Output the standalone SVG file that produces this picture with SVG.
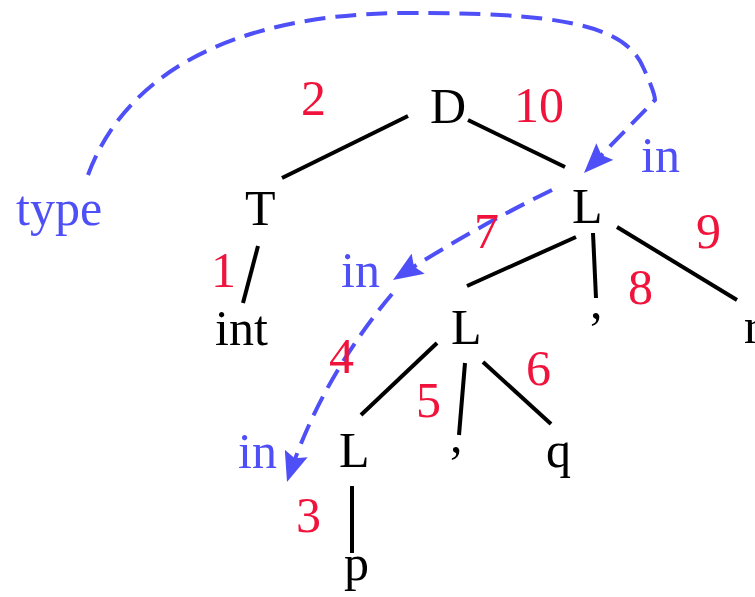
<svg xmlns="http://www.w3.org/2000/svg" width="755" height="597" viewBox="0 0 755 597">
<style>
.n{font-family:"Liberation Serif","Times New Roman",serif;font-size:50px;fill:#000}
.num{font-family:"Liberation Serif","Times New Roman",serif;font-size:50px;fill:#f0143c}
.att{font-family:"Liberation Serif","Times New Roman",serif;font-size:50px;fill:#4f4ff7}
.e{stroke:#000;stroke-width:4;fill:none;stroke-linecap:butt}
.d{stroke:#4f4ff7;stroke-width:4;fill:none;stroke-dasharray:21 10}
</style>
<defs>
<marker id="ah" markerUnits="userSpaceOnUse" markerWidth="32" markerHeight="24" refX="30" refY="12" orient="auto">
<path d="M0,0 L30,12 L0,24 L5,12 z" fill="#4f4ff7"/>
</marker>
</defs>
<rect width="755" height="597" fill="#fff"/>
<g id="connectors">
<line class="e" x1="408" y1="116" x2="282" y2="178"/>
<line class="e" x1="468" y1="120" x2="565" y2="167"/>
<line class="e" x1="258" y1="246" x2="243" y2="303"/>
<line class="e" x1="576" y1="237" x2="467" y2="286"/>
<line class="e" x1="593" y1="233" x2="596" y2="298"/>
<line class="e" x1="617" y1="227" x2="737" y2="300"/>
<line class="e" x1="437" y1="343" x2="361" y2="415"/>
<line class="e" x1="465" y1="363" x2="459" y2="435"/>
<line class="e" x1="483" y1="362" x2="551" y2="424"/>
<line class="e" x1="352" y1="486" x2="352" y2="553"/>
<path class="d" d="M88,175 C125,75 230,15 400,13 C560,12 625,25 643,67 C650,82 655,95 655,100 L584,173" marker-end="url(#ah)"/>
<path class="d" d="M552,190 Q470,230 393,280" marker-end="url(#ah)"/>
<path class="d" d="M392,294 Q320,380 287,482" marker-end="url(#ah)"/>
</g>
<g id="attr-labels">
<text class="att" x="16" y="225">type</text>
<text class="att" x="641" y="172">in</text>
<text class="att" x="341" y="287">in</text>
<text class="att" x="238" y="468">in</text>
</g>
<g id="order-labels">
<text class="num" x="301" y="115">2</text>
<text class="num" x="514" y="122">10</text>
<text class="num" x="474" y="248">7</text>
<text class="num" x="696" y="248">9</text>
<text class="num" x="211" y="287">1</text>
<text class="num" x="628" y="304">8</text>
<text class="num" x="329" y="373">4</text>
<text class="num" x="526" y="385">6</text>
<text class="num" x="416" y="417">5</text>
<text class="num" x="296" y="532">3</text>
</g>
<g id="node-D"><text class="n" x="430" y="123">D</text></g>
<g id="node-T"><text class="n" x="245" y="225">T</text></g>
<g id="node-L1"><text class="n" x="572" y="223">L</text></g>
<g id="node-int"><text class="n" x="215" y="345">int</text></g>
<g id="node-L2"><text class="n" x="451" y="344">L</text></g>
<g id="node-comma1"><text class="n" x="590" y="318">,</text></g>
<g id="node-r"><text class="n" x="744" y="343">r</text></g>
<g id="node-L3"><text class="n" x="339" y="467">L</text></g>
<g id="node-comma2"><text class="n" x="450" y="452">,</text></g>
<g id="node-q"><text class="n" x="546" y="467">q</text></g>
<g id="node-p"><text class="n" x="344" y="580">p</text></g>
</svg>
